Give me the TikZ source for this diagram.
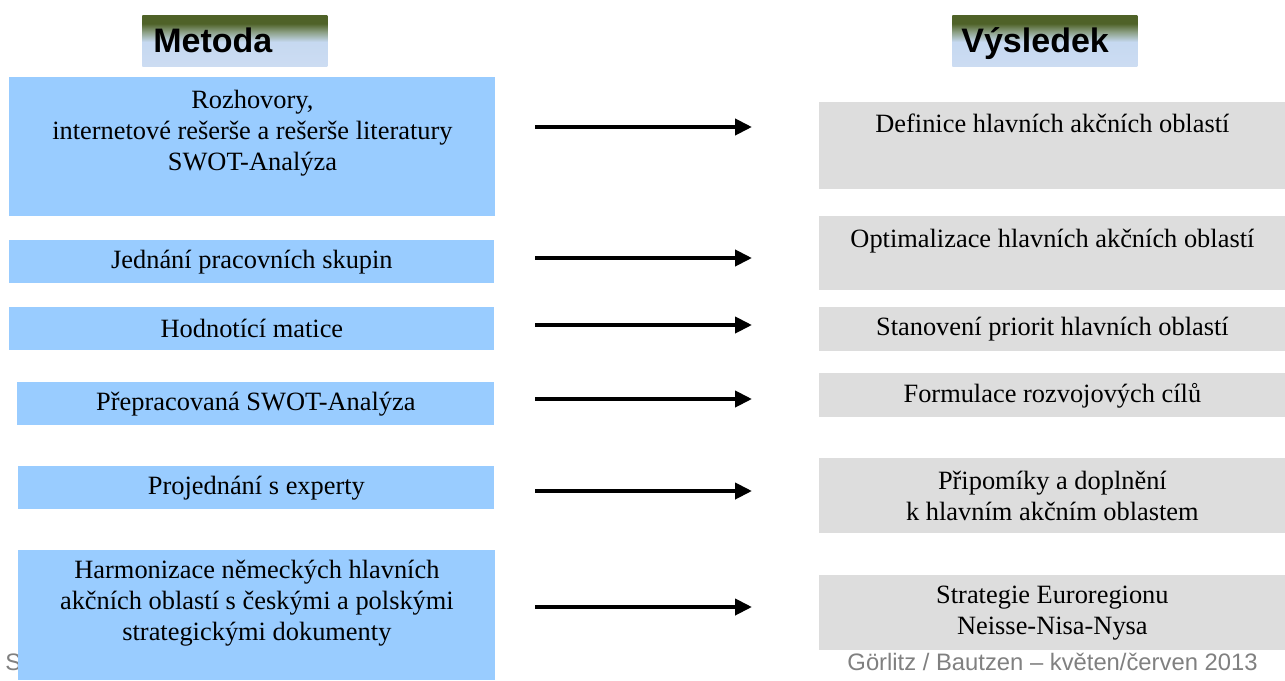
\documentclass[tikz,border=0pt]{standalone}
\usepackage{fontspec}
\setmainfont{Liberation Serif}
\newfontfamily\arialfont{Liberation Sans}
\usetikzlibrary{arrows.meta,positioning}
\definecolor{boxblue}{HTML}{99CCFF}
\definecolor{boxgray}{HTML}{DDDDDD}
\definecolor{hdrgreen}{HTML}{4F6228}
\definecolor{hdrmid}{HTML}{8A9E83}
\definecolor{hdrblue}{HTML}{C6D9F1}
\definecolor{hdrlight}{HTML}{CCDCF2}
\definecolor{footgray}{HTML}{808080}
\pgfdeclareverticalshading{hdrshade}{100bp}{color(0bp)=(hdrlight); color(25bp)=(hdrlight); color(49bp)=(hdrblue); color(59bp)=(hdrmid); color(67bp)=(hdrgreen); color(100bp)=(hdrgreen)}

\begin{document}
\begin{tikzpicture}[x=0.5pt,y=-0.5pt,
		mbox/.style={fill=boxblue,inner sep=0pt,anchor=north west},
		vbox/.style={fill=boxgray,inner sep=0pt,anchor=north west},
		txt/.style={font=\fontsize{13.2}{15.5}\selectfont,align=center,inner sep=0pt},
		hdr/.style={shading=hdrshade,inner sep=0pt,anchor=north west,minimum width=92.5pt,minimum height=25.5pt},
		hdrtxt/.style={font=\arialfont\bfseries\fontsize{17}{20}\selectfont,inner sep=0pt,anchor=base west},
		foot/.style={font=\arialfont\fontsize{11.9}{14}\selectfont,text=footgray,inner sep=0pt},
		conn/.style={-{Triangle[length=8.5pt,width=8pt]},line width=2pt}]
		\useasboundingbox (0,0) rectangle (1285,680);
		% headers
		\node[hdr] (hm) at (142,15) {};
		\node[hdrtxt] (hmt) at (153,52) {Metoda};
		\node[hdr] (hv) at (952,15) {};
		\node[hdrtxt] (hvt) at (961,52) {Výsledek};
		% footer
		\node[foot,anchor=base west] (fl) at (5,670) {S};
		\node[foot,anchor=base east] (fr) at (1258,670) {Görlitz / Bautzen – květen/červen 2013};
		% method column
		\node[mbox,minimum width=243pt,minimum height=69.5pt] (m1) at (9,77) {};
		\node[txt,below=6.5pt of m1.north] (m1t) {Rozhovory,\\internetové rešerše a rešerše literatury\\SWOT-Analýza};
		\node[mbox,txt,minimum width=242.5pt,minimum height=21.5pt] (m2) at (9,240) {Jednání pracovních skupin};
		\node[mbox,txt,minimum width=242.5pt,minimum height=21.5pt] (m3) at (9,307) {Hodnotící matice};
		\node[mbox,txt,minimum width=238.5pt,minimum height=21.5pt] (m4) at (17,382) {Přepracovaná SWOT-Analýza};
		\node[mbox,txt,minimum width=238pt,minimum height=21.5pt] (m5) at (18,466) {Projednání s experty};
		\node[mbox,minimum width=238.5pt,minimum height=65pt] (m6) at (18,550) {};
		\node[txt,below=5pt of m6.north] (m6t) {Harmonizace německých hlavních\\akčních oblastí s českými a polskými\\strategickými dokumenty};
		% result column
		\node[vbox,minimum width=233pt,minimum height=43.5pt] (v1) at (819,102) {};
		\node[txt,below=6pt of v1.north] (v1t) {Definice hlavních akčních oblastí};
		\node[vbox,minimum width=233pt,minimum height=37pt] (v2) at (819,216) {};
		\node[txt,below=6.5pt of v2.north] (v2t) {Optimalizace hlavních akčních oblastí};
		\node[vbox,txt,minimum width=233pt,minimum height=22pt] (v3) at (819,307) {Stanovení priorit hlavních oblastí};
		\node[vbox,txt,minimum width=233pt,minimum height=22pt] (v4) at (819,373) {Formulace rozvojových cílů};
		\node[vbox,txt,minimum width=233pt,minimum height=37.5pt] (v5) at (819,458) {Připomíky a doplnění\\k hlavním akčním oblastem};
		\node[vbox,txt,minimum width=233pt,minimum height=37.5pt] (v6) at (819,575) {Strategie Euroregionu\\Neisse-Nisa-Nysa};
		% arrows
		\foreach \y [count=\i] in {127,258,325,399,491,607} {
			\coordinate (s\i) at (535,\y);
			\coordinate (e\i) at (752,\y);
			\draw[conn] (s\i) -- (e\i);
		}
\end{tikzpicture}
\end{document}
